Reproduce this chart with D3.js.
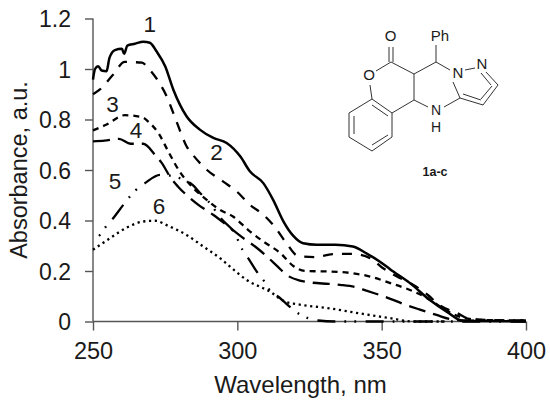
<!DOCTYPE html>
<html><head><meta charset="utf-8">
<script src="https://cdn.jsdelivr.net/npm/d3@7"></script>
<style>html,body{margin:0;padding:0;background:#fff}svg{display:block}text{font-family:"Liberation Sans",Arial,sans-serif;fill:#1a1a1a}</style>
</head><body><svg id="c" width="550" height="404"></svg>
<script>
const xTicks=[250,300,350,400];
const yTicks=[0,0.2,0.4,0.6,0.8,1,1.2];
const xLabel="Wavelength, nm", yLabel="Absorbance, a.u.";
const s1x=[250,250.7,251.8,253,254.7,255.7,257.6,260,260.8,261.9,264.5,267.4,269.7,272,275,277.8,282.4,287,291.7,296.3,301,304.4,309,312.4,316,319.4,322.8,327.5,334,340,344.7,349.4,352.9,359.8,366.7,372.5,378.3,400];
const s1y=[.958,1,1.011,.994,.991,1.044,1.075,1.08,1.06,1.093,1.1,1.108,1.104,1.07,1.011,.919,.813,.76,.727,.707,.654,.594,.548,.482,.396,.339,.31,.304,.304,.297,.27,.237,.207,.152,.085,.039,.002,0];
const s2x=[250,252.4,257,261,267,269,272.6,275.5,277.8,280,282.4,284.6,289.4,295,299.8,304.4,309,313,317,321,327,333,339.6,346,350,355,361,366,370,376,380.6,387,399,400];
const s2y=[.9,.919,.978,1.028,1.025,1.005,.952,.892,.826,.76,.694,.66,.601,.555,.515,.462,.423,.374,.31,.26,.255,.267,.268,.251,.215,.18,.145,.105,.065,.034,.01,.006,.004,.004];
const s3x=[250,254.7,261,267,269,273,276,280,284.7,289.4,294,298.5,303.7,309,315,319.4,323.5,332,340,346,353,359.8,365.7,371,377,385,399,400];
const s3y=[.757,.78,.817,.809,.793,.74,.675,.594,.529,.482,.442,.416,.363,.317,.27,.22,.2,.198,.191,.178,.152,.125,.093,.054,.019,.006,.004,.004];
const s4x=[250,254,259,263,267.4,271.5,273.8,277,279.4,283.6,286.5,291.6,296,301.5,306.7,309.6,314,317,321.7,325.7,331.6,335.6,341,344.7,350.4,358.6,363,369,373.5,378,400];
const s4y=[.713,.716,.723,.704,.704,.66,.628,.568,.535,.489,.462,.423,.385,.335,.292,.264,.217,.185,.162,.154,.149,.145,.136,.122,.101,.065,.048,.026,.01,.004,.002];
const s5x=[250,252.4,254.5,256.7,260.5,262.8,265,268,273.2,280,284.6,287,290,294.6,299,301.8,303.8,307.3,309.4,311.6,314.2,318.8,321.4,324.5,328,334,400];
const s5y=[.313,.343,.376,.405,.462,.495,.522,.548,.581,.568,.54,.51,.475,.405,.351,.284,.25,.188,.158,.118,.098,.052,.03,.013,.004,0,0];
const s6x=[250,255.9,261.7,267.4,271.5,276,282.4,288.2,294,297.5,303.2,311.3,316.5,320.5,332,343.5,353,361,372];
const s6y=[.284,.33,.372,.396,.399,.379,.343,.297,.251,.217,.165,.118,.079,.069,.052,.03,.013,0,0];
const seriesX=[s1x,s2x,s3x,s4x,s5x,s6x];
const seriesY=[s1y,s2y,s3y,s4y,s5y,s6y];
const dashes=[null,"10 9","6 5","17 8","18 9 1.8 8.2 1.8 9.5","2.2 3.6"];
const dashOffsets=[0,0,0,0,18,0];
const widths=[2.5,2.3,2.3,2.3,2.3,2.3];
const curveLabels=[["1",269.7,1.148],["2",292.8,.639],["3",256.8,.83],["4",264.9,.727],["5",257.6,.525],["6",272.9,.425]];

const svg=d3.select("#c");
const x=d3.scaleLinear().domain([250,400]).range([93,526]);
const y=d3.scaleLinear().domain([0,1.2]).range([321.5,18.5]);
const ax="#555";
svg.append("g").attr("transform","translate(0,321.5)").call(d3.axisBottom(x).tickValues(xTicks).tickSize(9).tickFormat(d3.format("d")))
 .call(g=>{g.selectAll("path,line").attr("stroke",ax).attr("stroke-width",1.4);g.select("path").attr("d","M93,0H526");g.selectAll("text").attr("font-size",23.5).attr("y",37).attr("dy",0).attr("font-family",null)});
svg.append("g").attr("transform","translate(93,0)").call(d3.axisLeft(y).tickValues(yTicks).tickSize(8).tickFormat(d=>d))
 .call(g=>{g.selectAll("path,line").attr("stroke",ax).attr("stroke-width",1.4);g.select("path").attr("d","M0,18.5V321.5");g.selectAll("text").attr("font-size",23).attr("x",-22).attr("dy",".35em").attr("font-family",null)});
svg.append("text").attr("x",300.5).attr("y",393).attr("text-anchor","middle").attr("font-size",24).text(xLabel);
svg.append("text").attr("transform","translate(27,170) rotate(-90)").attr("text-anchor","middle").attr("font-size",23.5).text(yLabel);

const line=d3.line().x(d=>x(d[0])).y(d=>y(d[1])).curve(d3.curveMonotoneX);
seriesX.forEach((xs,i)=>{
 svg.append("path").datum(xs.map((v,j)=>[v,seriesY[i][j]])).attr("d",line).attr("fill","none").attr("stroke","#000")
  .attr("stroke-width",widths[i]).attr("stroke-dasharray",dashes[i]).attr("stroke-dashoffset",dashOffsets[i]);
});
svg.selectAll(".cl").data(curveLabels).join("text").attr("class","cl").attr("font-size",22.5).attr("text-anchor","middle")
 .attr("x",d=>x(d[1])).attr("y",d=>y(d[2])).text(d=>d[0]);

// structure drawing
const mx=d3.scaleLinear().domain([0,220]).range([320,540]);
const my=d3.scaleLinear().domain([0,180]).range([10,190]);
const bonds=[[69,37,69,52],[73,37,73,52],[71,52,56,61],[50,75,52,89],[71,52,94,64],[94,64,116,52],[116,52,116,35],[116,52,130,60],[145,60,155,58],[166,62,178,75],[161,63,171,75],[178,75,163,95],[172,76,161,89],[163,95,140,88],[161,90,143,84],[140,88,133,72],[140,88,124,97],[108,97,94,90],[94,90,94,64],[94,90,72,103],[72,103,52,89],[52,89,29,103],[29,103,29,127],[29,127,52,141],[52,141,72,127],[72,127,72,103],[34,106,34,124],[52,135,68,125],[68,106,52,95]];
svg.append("g").selectAll("path").data(bonds).join("path").attr("fill","none").attr("stroke","#333").attr("stroke-width",1)
 .attr("d",d=>d3.line()([[mx(d[0]),my(d[1])],[mx(d[2]),my(d[3])]]));
const atoms=[["O",70.7,27,15,400],["Ph",120,27,15,400],["O",49,66,15,400],["N",138,64,15,400],["N",162,55,15,400],["N",116,101,14,400],["H",116,118,14,400],["1a-c",115,163,12.5,700]];
svg.append("g").selectAll("text").data(atoms).join("text").attr("text-anchor","middle").attr("dominant-baseline","middle")
 .attr("x",d=>mx(d[1])).attr("y",d=>my(d[2])).attr("font-size",d=>d[3]).attr("font-weight",d=>d[4]).text(d=>d[0]);
</script></body></html>
